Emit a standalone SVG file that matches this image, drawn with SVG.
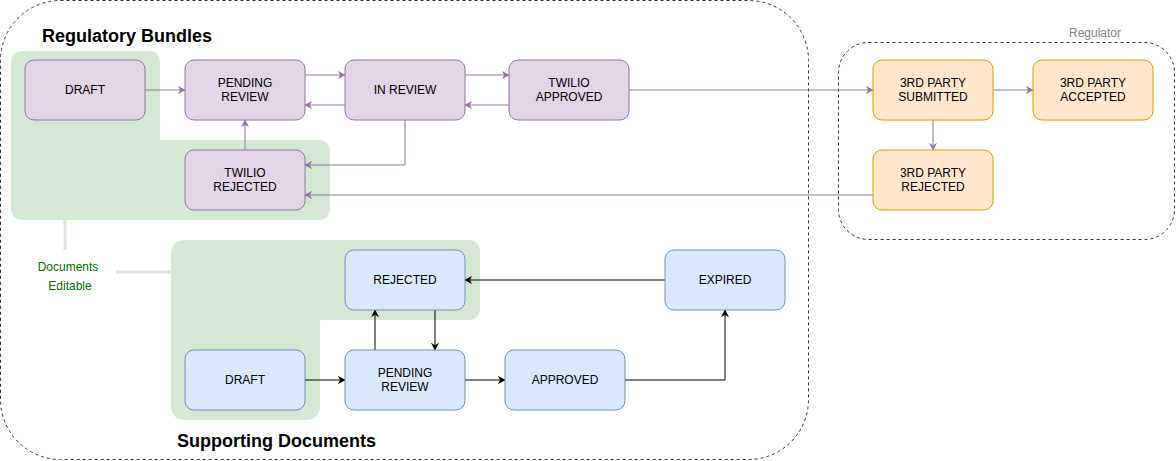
<svg xmlns="http://www.w3.org/2000/svg" width="1176" height="461" viewBox="0 0 1176 461">
<defs>
<style>
text{font-family:"Liberation Sans",Arial,sans-serif;font-size:12px;text-anchor:middle;fill:#000}
.p rect{fill:#e1d5e7;stroke:#9673a6}
.b rect{fill:#dae8fc;stroke:#6c8ebf}
.o rect{fill:#ffe6cc;stroke:#d79b00}
.pc{fill:none;stroke:#9673a6;stroke-width:1;marker-end:url(#mp)}
.bc{fill:none;stroke:#000;stroke-width:1;marker-end:url(#mb)}
.t{font-size:18px;font-weight:bold;text-anchor:start}
</style>
<marker id="mp" viewBox="0 0 10 10" refX="9" refY="5" markerWidth="8" markerHeight="8" orient="auto" markerUnits="userSpaceOnUse"><path d="M0,0 L10,5 L0,10 L3,5 Z" fill="#9673a6"/></marker>
<marker id="mb" viewBox="0 0 10 10" refX="9" refY="5" markerWidth="8" markerHeight="8" orient="auto" markerUnits="userSpaceOnUse"><path d="M0,0 L10,5 L0,10 L3,5 Z" fill="#000"/></marker>
</defs>
<rect width="1176" height="461" fill="#fff"/>
<g id="containers">
<rect x="0.5" y="0.5" width="808" height="459" rx="60" fill="none" stroke="#333" stroke-dasharray="3,3"/>
<rect x="838.5" y="42.5" width="336" height="197" rx="30" fill="none" stroke="#333" stroke-dasharray="3,3"/>
<text x="1095" y="37" style="fill:#808080">Regulator</text>
<path d="M23,51 H148 Q160,51 160,63 V140 H318 Q330,140 330,152 V208 Q330,220 318,220 H23 Q11,220 11,208 V63 Q11,51 23,51 Z" fill="#d5e8d4"/>
<path d="M186,240 H468 Q480,240 480,252 V308 Q480,320 468,320 H320 V405 Q320,420 305,420 H186 Q171,420 171,405 V255 Q171,240 186,240 Z" fill="#d5e8d4"/>
<path d="M65,220 V250 M116,272 H171" stroke="#d5e8d4" stroke-width="3" fill="none"/>
<text x="68" y="271" style="fill:#007000">Documents</text>
<text x="70" y="290" style="fill:#007000">Editable</text>
<text class="t" x="42" y="42">Regulatory Bundles</text>
<text class="t" x="177" y="447">Supporting Documents</text>
</g>
<g id="connectors">
<path class="pc" d="M145,90 H185"/>
<path class="pc" d="M305,75 H345"/>
<path class="pc" d="M345,105 H305"/>
<path class="pc" d="M465,75 H509"/>
<path class="pc" d="M509,105 H465"/>
<path class="pc" d="M629,90 H873"/>
<path class="pc" d="M993,90 H1033"/>
<path class="pc" d="M933,120 V150"/>
<path class="pc" d="M405,120 V165 H305"/>
<path class="pc" d="M873,195 H305"/>
<path class="pc" d="M245,150 V120"/>
<path class="bc" d="M305,380 H345"/>
<path class="bc" d="M465,380 H505"/>
<path class="bc" d="M625,380 H725 V310"/>
<path class="bc" d="M665,280 H465"/>
<path class="bc" d="M375,350 V310"/>
<path class="bc" d="M435,310 V350"/>
</g>
<g id="rb-draft" class="p"><rect x="25" y="60" width="120" height="60" rx="9"/><text x="85" y="94">DRAFT</text></g>
<g id="rb-pending" class="p"><rect x="185" y="60" width="120" height="60" rx="9"/><text x="245" y="87">PENDING</text><text x="245" y="101">REVIEW</text></g>
<g id="rb-inreview" class="p"><rect x="345" y="60" width="120" height="60" rx="9"/><text x="405" y="94">IN REVIEW</text></g>
<g id="rb-approved" class="p"><rect x="509" y="60" width="120" height="60" rx="9"/><text x="569" y="87">TWILIO</text><text x="569" y="101">APPROVED</text></g>
<g id="rb-rejected" class="p"><rect x="185" y="150" width="120" height="60" rx="9"/><text x="245" y="177">TWILIO</text><text x="245" y="191">REJECTED</text></g>
<g id="tp-submitted" class="o"><rect x="873" y="60" width="120" height="60" rx="9"/><text x="933" y="87">3RD PARTY</text><text x="933" y="101">SUBMITTED</text></g>
<g id="tp-accepted" class="o"><rect x="1033" y="60" width="120" height="60" rx="9"/><text x="1093" y="87">3RD PARTY</text><text x="1093" y="101">ACCEPTED</text></g>
<g id="tp-rejected" class="o"><rect x="873" y="150" width="120" height="60" rx="9"/><text x="933" y="177">3RD PARTY</text><text x="933" y="191">REJECTED</text></g>
<g id="sd-rejected" class="b"><rect x="345" y="250" width="120" height="60" rx="9"/><text x="405" y="284">REJECTED</text></g>
<g id="sd-expired" class="b"><rect x="665" y="250" width="120" height="60" rx="9"/><text x="725" y="284">EXPIRED</text></g>
<g id="sd-draft" class="b"><rect x="185" y="350" width="120" height="60" rx="9"/><text x="245" y="384">DRAFT</text></g>
<g id="sd-pending" class="b"><rect x="345" y="350" width="120" height="60" rx="9"/><text x="405" y="377">PENDING</text><text x="405" y="391">REVIEW</text></g>
<g id="sd-approved" class="b"><rect x="505" y="350" width="120" height="60" rx="9"/><text x="565" y="384">APPROVED</text></g>
</svg>
